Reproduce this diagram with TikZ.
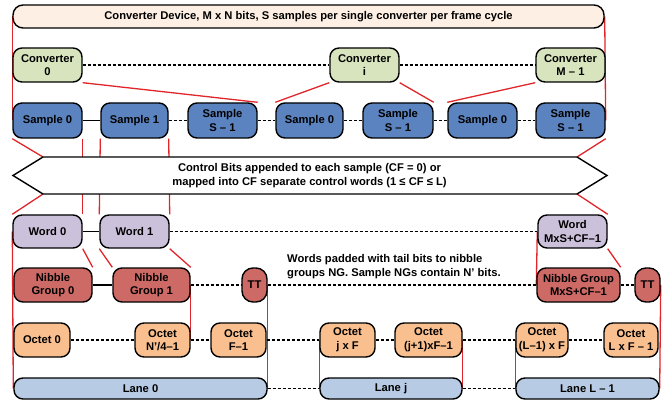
\documentclass[tikz,border=0pt]{standalone}
\usepackage{fontspec}
\setmainfont{Liberation Sans}
\usetikzlibrary{backgrounds}

\definecolor{bnrfill}{HTML}{FDEFE3}
\definecolor{convgreen}{HTML}{D7E4BD}
\definecolor{smpblue}{HTML}{5A83BF}
\definecolor{wrdpurple}{HTML}{CCC1DA}
\definecolor{nibred}{HTML}{CD6A66}
\definecolor{octorange}{HTML}{F9BF8F}
\definecolor{lanelight}{HTML}{B7CBE4}
\definecolor{linkred}{HTML}{E0262A}

\begin{document}
\begin{tikzpicture}[
  x=1pt, y=-1pt,
  box/.style={draw, line width=1.4pt, rounded corners=9pt, align=center, inner sep=1pt,
    font=\fontsize{11.2}{13.5}\selectfont\bfseries},
  conv/.style={box, fill=convgreen, minimum width=69pt, minimum height=34pt},
  smp/.style={box, fill=smpblue, minimum height=35pt},
  wrd/.style={box, fill=wrdpurple, minimum height=33pt},
  nib/.style={box, fill=nibred, minimum height=34pt},
  oct/.style={box, fill=octorange, minimum height=34pt},
  lane/.style={box, fill=lanelight, minimum height=21pt},
  link/.style={draw=linkred, line width=1.3pt},
  dots/.style={line width=1.3pt, dash pattern=on 3pt off 2pt},
  txt/.style={font=\fontsize{11.2}{14}\selectfont\bfseries}
]
  \useasboundingbox (0,0) rectangle (662,401);
  \node[box, fill=bnrfill, minimum width=591pt, minimum height=23pt, rounded corners=10pt] (bnr) at (308.5,16.5)
    {Converter Device, M x N bits, S samples per single converter per frame cycle};
  \node[conv] (c0) at (47.5,65) {Converter\\0};
  \node[conv] (ci) at (364.5,65) {Converter\\i};
  \node[conv] (cM) at (570.5,65) {Converter\\M – 1};
  \node[smp, minimum width=69pt] (s0) at (47.5,120.5) {Sample 0};
  \node[smp, minimum width=67pt] (s1) at (134.5,120.5) {Sample 1};
  \node[smp, minimum width=69pt] (s2) at (222.5,120.5) {Sample\\S – 1};
  \node[smp, minimum width=67pt] (s3) at (309.5,120.5) {Sample 0};
  \node[smp, minimum width=70pt] (s4) at (398,120.5) {Sample\\S – 1};
  \node[smp, minimum width=69pt] (s5) at (482.5,120.5) {Sample 0};
  \node[smp, minimum width=69pt] (s6) at (570.5,120.5) {Sample\\S – 1};
  \coordinate (arL) at (13,175.5);
  \coordinate (arTL) at (43,157);
  \coordinate (arTR) at (577,157);
  \coordinate (arR) at (607,175.5);
  \coordinate (arBR) at (577,194);
  \coordinate (arBL) at (43,194);
  \draw[line width=1.4pt, fill=white] (arL) -- (arTL) -- (arTR) -- (arR) -- (arBR) -- (arBL) -- cycle;
  \node[txt, align=center] (ctl) at (309.5,175.5)
    {Control Bits appended to each sample (CF = 0) or\\mapped into CF separate control words (1 ≤ CF ≤ L)};
  \node[wrd, minimum width=69pt] (w0) at (47.5,231.5) {Word 0};
  \node[wrd, minimum width=69pt] (w1) at (134.5,231.5) {Word 1};
  \node[wrd, minimum width=69pt] (w2) at (572.5,231.5) {Word\\MxS+CF–1};
  \node[txt, align=left, anchor=west, inner sep=0pt] (pad) at (287,267)
    {Words padded with tail bits to nibble\\groups NG. Sample NGs contain N’ bits.};
  \node[nib, minimum width=78pt] (n0) at (53,285) {Nibble\\Group 0};
  \node[nib, minimum width=77pt] (n1) at (151.5,285) {Nibble\\Group 1};
  \node[nib, minimum width=25pt, rounded corners=11pt] (tt1) at (254.5,285) {TT};
  \node[nib, minimum width=83pt] (n2) at (578.5,285) {Nibble Group\\MxS+CF–1};
  \node[nib, minimum width=25pt, rounded corners=11pt] (tt2) at (647.5,285) {TT};
  \node[oct, minimum width=56pt] (o0) at (42,340) {Octet 0};
  \node[oct, minimum width=55pt] (o1) at (162.5,340) {Octet\\N’/4–1};
  \node[oct, minimum width=55pt] (o2) at (238.5,340) {Octet\\F–1};
  \node[oct, minimum width=55pt] (o3) at (347.5,340) {Octet\\j x F};
  \node[oct, minimum width=67pt] (o4) at (428.5,340) {Octet\\(j+1)xF–1};
  \node[oct, minimum width=52pt] (o5) at (542,340) {Octet\\(L–1) x F};
  \node[oct, minimum width=54pt] (o6) at (631,340) {Octet\\L x F – 1};
  \node[lane, minimum width=253pt] (l0) at (140.5,388.5) {Lane 0};
  \node[lane, minimum width=142pt] (lj) at (391,388.5) {Lane j};
  \node[lane, minimum width=143pt] (lL) at (587.5,388.5) {Lane L – 1};

  % links between the levels
  \begin{scope}[on background layer]
    \draw[link] (bnr.west) -- (s0.west);
    \draw[link] (bnr.east) -- (s6.east);
    \draw[link] (c0.south east) -- (s2.north east);
    \draw[link] (ci.south west) -- (s3.north west);
    \draw[link] (ci.south east) -- (s4.north east);
    \draw[link] (cM.south west) -- (s5.north west);
    \draw[link] (s0.south west) -- (arTL);
    \draw[link] (s6.south east) -- (arTR);
    \draw[link] (s0.south east) -- (w0.north east);
    \draw[link] (s1.south west) -- (w1.north west);
    \draw[link] (s1.south east) -- (w1.north east);
    \draw[link] (arBL) -- (w0.north west);
    \draw[link] (arBR) -- (w2.north east);
    \draw[link] (w0.west) -- (l0.west);
    \draw[link] (w0.south east) -- (n0.north east);
    \draw[link] (w1.south west) -- (n1.north west);
    \draw[link] (w1.south east) -- (n1.north east);
    \draw[link] (w2.west) -- (n2.west);
    \draw[link] (w2.south east) -- (n2.north east);
    \draw[link] (n1.east) -- (o1.east);
    \draw[link] (tt1.east) -- (l0.east);
    \draw[link] (o3.west) -- (lj.west);
    \draw[link] (o4.east) -- (lj.east);
    \draw[link] (o5.west) -- (lL.west);
    \draw[link] (tt2.east) -- (lL.east);
  \end{scope}

  % same-level connections
  \draw[dots] (c0) -- (ci);
  \draw[dots] (ci) -- (cM);
  \draw[line width=1.3pt] (s0) -- (s1);
  \draw[dots] (s1) -- (s2);
  \draw[dots] (s2) -- (s3);
  \draw[dots] (s3) -- (s4);
  \draw[dots] (s4) -- (s5);
  \draw[dots] (s5) -- (s6);
  \draw[line width=1.3pt] (w0) -- (w1);
  \draw[dots] (w1) -- (w2);
  \draw[line width=1.3pt] (n0) -- (n1);
  \draw[dots] (n1) -- (tt1);
  \draw[dots] (tt1) -- (n2);
  \draw[dots] (n2) -- (tt2);
  \draw[dots] (o0) -- (o1);
  \draw[dots] (o1) -- (o2);
  \draw[dots] (o2) -- (o3);
  \draw[dots] (o3) -- (o4);
  \draw[dots] (o4) -- (o5);
  \draw[dots] (o5) -- (o6);
  \draw[dots] (l0) -- (lj);
  \draw[dots] (lj) -- (lL);
\end{tikzpicture}
\end{document}
